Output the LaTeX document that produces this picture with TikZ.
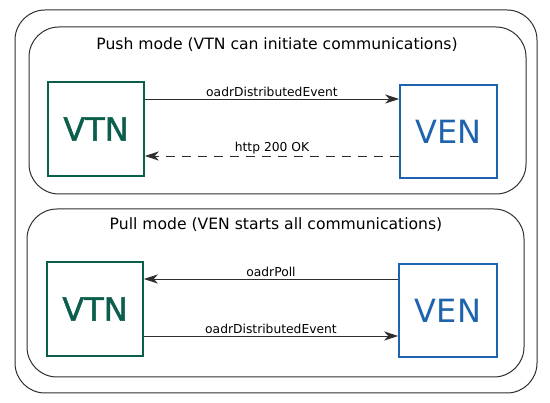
\documentclass[tikz,border=0pt]{standalone}
\usepackage{fontspec}
\setmainfont{DejaVu Sans}
\newfontfamily\heavyfont[FakeBold=1.3]{DejaVu Sans}
\usetikzlibrary{arrows.meta}
\definecolor{vtngreen}{HTML}{0B5E4C}
\definecolor{venblue}{HTML}{1E63AE}
\definecolor{framegray}{HTML}{2E2E2E}
\tikzset{
  frame/.style={draw=framegray,line width=1pt,rounded corners=30pt},
  vtnbox/.style={draw=vtngreen,line width=1.6pt,text=vtngreen,
    font=\heavyfont\fontsize{32}{32}\selectfont,inner sep=0pt},
  venbox/.style={draw=venblue,line width=1.6pt,text=venblue,
    font=\fontsize{32}{32}\selectfont,inner sep=0pt},
  msg/.style={draw=framegray,line width=0.9pt,-{Stealth[length=14pt,width=9pt,inset=4pt]}},
  msglabel/.style={font=\fontsize{12.3}{12.3}\selectfont,above,inner sep=1.5pt},
  title/.style={font=\fontsize{15.6}{15.6}\selectfont}
}
\begin{document}
\begin{tikzpicture}[x=1pt,y=-1pt]
\useasboundingbox (0,0) rectangle (550,403);

% Frames
\draw[frame] (15,10) rectangle (537,393);
\draw[frame] (29,27) rectangle (526,194);
\draw[frame] (27,209) rectangle (524,377);

% Titles
\node[title] (pushtitle) at (277,45) {Push mode (VTN can initiate communications)};
\node[title] (pulltitle) at (276,225) {Pull mode (VEN starts all communications)};

% Push mode
\node[vtnbox,minimum width=96pt,minimum height=94pt] (vtnA) at (96,129) {VTN};
\node[venbox,minimum width=97pt,minimum height=93pt] (venA) at (448.5,131.5) {VEN};

\draw[msg] (vtnA.east |- 0,99) -- node[msglabel] {oadrDistributedEvent} (venA.west |- 0,99);
\draw[msg,dash pattern=on 9pt off 7pt] (venA.west |- 0,156) -- node[msglabel] {http 200 OK} (vtnA.east |- 0,156);

% Pull mode
\node[vtnbox,minimum width=96pt,minimum height=94pt] (vtnB) at (95,309) {VTN};
\node[venbox,minimum width=98pt,minimum height=93pt] (venB) at (448,310.5) {VEN};

\draw[msg] (venB.west |- 0,279) -- node[msglabel] {oadrPoll} (vtnB.east |- 0,279);
\draw[msg] (vtnB.east |- 0,336) -- node[msglabel] {oadrDistributedEvent} (venB.west |- 0,336);

\end{tikzpicture}
\end{document}
